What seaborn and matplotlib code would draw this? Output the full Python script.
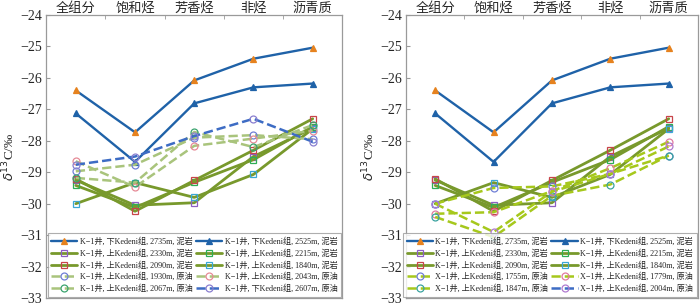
import matplotlib
matplotlib.use('Agg')
import matplotlib.pyplot as plt
import seaborn as sns
import pandas as pd

sns.set_style('white')
plt.rcParams['font.family'] = ['Liberation Serif', 'Noto Sans CJK SC', 'DejaVu Sans']
plt.rcParams['axes.unicode_minus'] = True

categories = ['全组分', '饱和烃', '芳香烃', '非烃', '沥青质']

# K-1 well mudstones (same in both panels)
k1_2735_mud = [-26.40, -27.73, -26.08, -25.39, -25.04]
k1_2525_mud = [-27.13, -28.67, -26.81, -26.30, -26.18]
k1_2330_mud = [-29.25, -30.05, -29.97, -28.50, -27.60]
k1_2215_mud = [-29.42, -30.12, -29.32, -28.60, -27.55]
k1_2090_mud = [-29.21, -30.24, -29.26, -28.30, -27.30]
k1_1840_mud = [-30.00, -29.33, -29.80, -29.07, -27.62]

# left panel: K-1 oils
k1_1930_oil = [-28.97, -28.76, -27.90, -27.82, -27.95]
k1_2043_oil = [-28.65, -29.47, -28.16, -27.93, -27.68]
k1_2067_oil = [-29.18, -29.33, -27.72, -28.20, -27.50]
k1_2607_oil = [-28.76, -28.50, -27.85, -27.30, -28.03]

# right panel: X-1 oils
x1_1755_oil = [-30.00, -29.50, -29.45, -29.05, -28.47]
x1_1779_oil = [-30.32, -30.27, -29.60, -28.87, -28.03]
x1_1847_oil = [-30.42, -31.06, -29.75, -29.39, -28.47]
x1_2004_oil = [-30.00, -30.90, -29.62, -29.05, -28.18]

BLUE = '#1f62a8'
ORANGE = '#e6821e'
OLIVE = '#78992c'
LGREEN = '#a9c47c'
YGREEN = '#a6c81c'
DBLUE = '#3d6cc4'

# label, values, line colour, marker, edge colour, face colour, style, width, legend colour
mud = [
    ('K−1井, 下Kedeni组, 2735m, 泥岩', k1_2735_mud, BLUE, '^', ORANGE, ORANGE, '-', 1.7, None),
    ('K−1井, 下Kedeni组, 2525m, 泥岩', k1_2525_mud, BLUE, '^', BLUE, BLUE, '-', 1.7, None),
    ('K−1井, 上Kedeni组, 2330m, 泥岩', k1_2330_mud, OLIVE, 's', '#8d5fc4', 'none', '-', 2.0, None),
    ('K−1井, 上Kedeni组, 2215m, 泥岩', k1_2215_mud, OLIVE, 's', '#2fae55', 'none', '-', 2.0, None),
    ('K−1井, 上Kedeni组, 2090m, 泥岩', k1_2090_mud, OLIVE, 's', '#c8454a', 'none', '-', 2.0, None),
    ('K−1井, 上Kedeni组, 1840m, 泥岩', k1_1840_mud, OLIVE, 's', '#3aa7d6', 'none', '-', 2.0, None),
]

left_oil = [
    ('K−1井, 上Kedeni组, 1930m, 原油', k1_1930_oil, LGREEN, 'o', '#6f7fd6', 'none', '--', 1.8, None),
    ('K−1井, 上Kedeni组, 2043m, 原油', k1_2043_oil, LGREEN, 'o', '#e68a96', 'none', '--', 1.8, None),
    ('K−1井, 上Kedeni组, 2067m, 原油', k1_2067_oil, LGREEN, 'o', '#3aa36e', 'none', '--', 1.8, None),
    ('K−1井, 下Kedeni组, 2607m, 原油', k1_2607_oil, DBLUE, 'o', '#8a7fd0', 'none', '--', 1.8, None),
]

right_oil = [
    ('X−1井, 上Kedeni组, 1755m, 原油', x1_1755_oil, YGREEN, 'o', '#6f7fd6', 'none', '--', 1.8, None),
    ('X−1井, 上Kedeni组, 1779m, 原油', x1_1779_oil, YGREEN, 'o', '#e07aa0', 'none', '--', 1.8, None),
    ('X−1井, 上Kedeni组, 1847m, 原油', x1_1847_oil, YGREEN, 'o', '#3aa3a0', 'none', '--', 1.8, None),
    ('X−1井, 上Kedeni组, 2004m, 原油', x1_2004_oil, YGREEN, 'o', '#b07ad0', 'none', '--', 1.8, DBLUE),
]

fig = plt.figure(figsize=(7.0, 3.06), dpi=100)
ax1 = fig.add_axes([0.066, 0.026, 0.423, 0.925])
ax2 = fig.add_axes([0.580, 0.026, 0.417, 0.925])


def draw(ax, series):
    for label, vals, lc, mk, mec, mfc, ls, lw, _ in series:
        df = pd.DataFrame({'cat': categories, 'v': vals})
        kw = dict(color=lc, marker=mk, mec=mec, mfc=mfc, ms=5, mew=0.9,
                  linestyle=ls, lw=lw, label=label, sort=False)
        if ls == '--':
            kw['dashes'] = (3, 1.6)
        sns.lineplot(data=df, x='cat', y='v', ax=ax, **kw)
    lines = list(ax.get_lines())
    # legend in row-major order (matplotlib fills columns first)
    idx = list(range(0, len(lines), 2)) + list(range(1, len(lines), 2))
    order = [lines[i] for i in idx]
    leg = ax.legend(handles=order, labels=[h.get_label() for h in order], ncol=2,
                    loc='lower right', bbox_to_anchor=(1.0, 0.0), fontsize=5.9,
                    frameon=True, fancybox=False, borderaxespad=0.15,
                    handlelength=3.2, handletextpad=0.3, columnspacing=0.4,
                    labelspacing=0.4, borderpad=0.45)
    leg.get_frame().set_edgecolor('#9a9a9a')
    leg.get_frame().set_linewidth(0.8)
    for h, i in zip(leg.get_lines(), idx):
        if series[i][8]:
            h.set_color(series[i][8])

    ax.set_xlim(-0.5, 4.5)
    ax.set_ylim(-33, -24)
    ax.set_yticks(range(-33, -23))
    ax.set_xticks(range(len(categories)))
    ax.set_xticklabels(categories, fontsize=9.5, family=['Noto Sans CJK SC'])
    ax.set_xticks([0.5, 1.5, 2.5, 3.5], minor=True)
    ax.xaxis.tick_top()
    ax.tick_params(axis='x', which='major', length=0, pad=0)
    ax.tick_params(axis='x', which='minor', top=True, bottom=False, direction='in',
                   length=3, color='#999999')
    ax.tick_params(axis='y', which='major', direction='in', length=3, left=True,
                   labelsize=10, color='#999999', pad=3)
    ax.set_xlabel('')
    ax.set_ylabel(r'$\delta^{13}$C/‰', fontsize=9.5, labelpad=2)
    for s in ax.spines.values():
        s.set_color('#9a9a9a')
        s.set_linewidth(0.9)


draw(ax1, mud + left_oil)
draw(ax2, mud + right_oil)

fig.savefig('out.png', dpi=100)
